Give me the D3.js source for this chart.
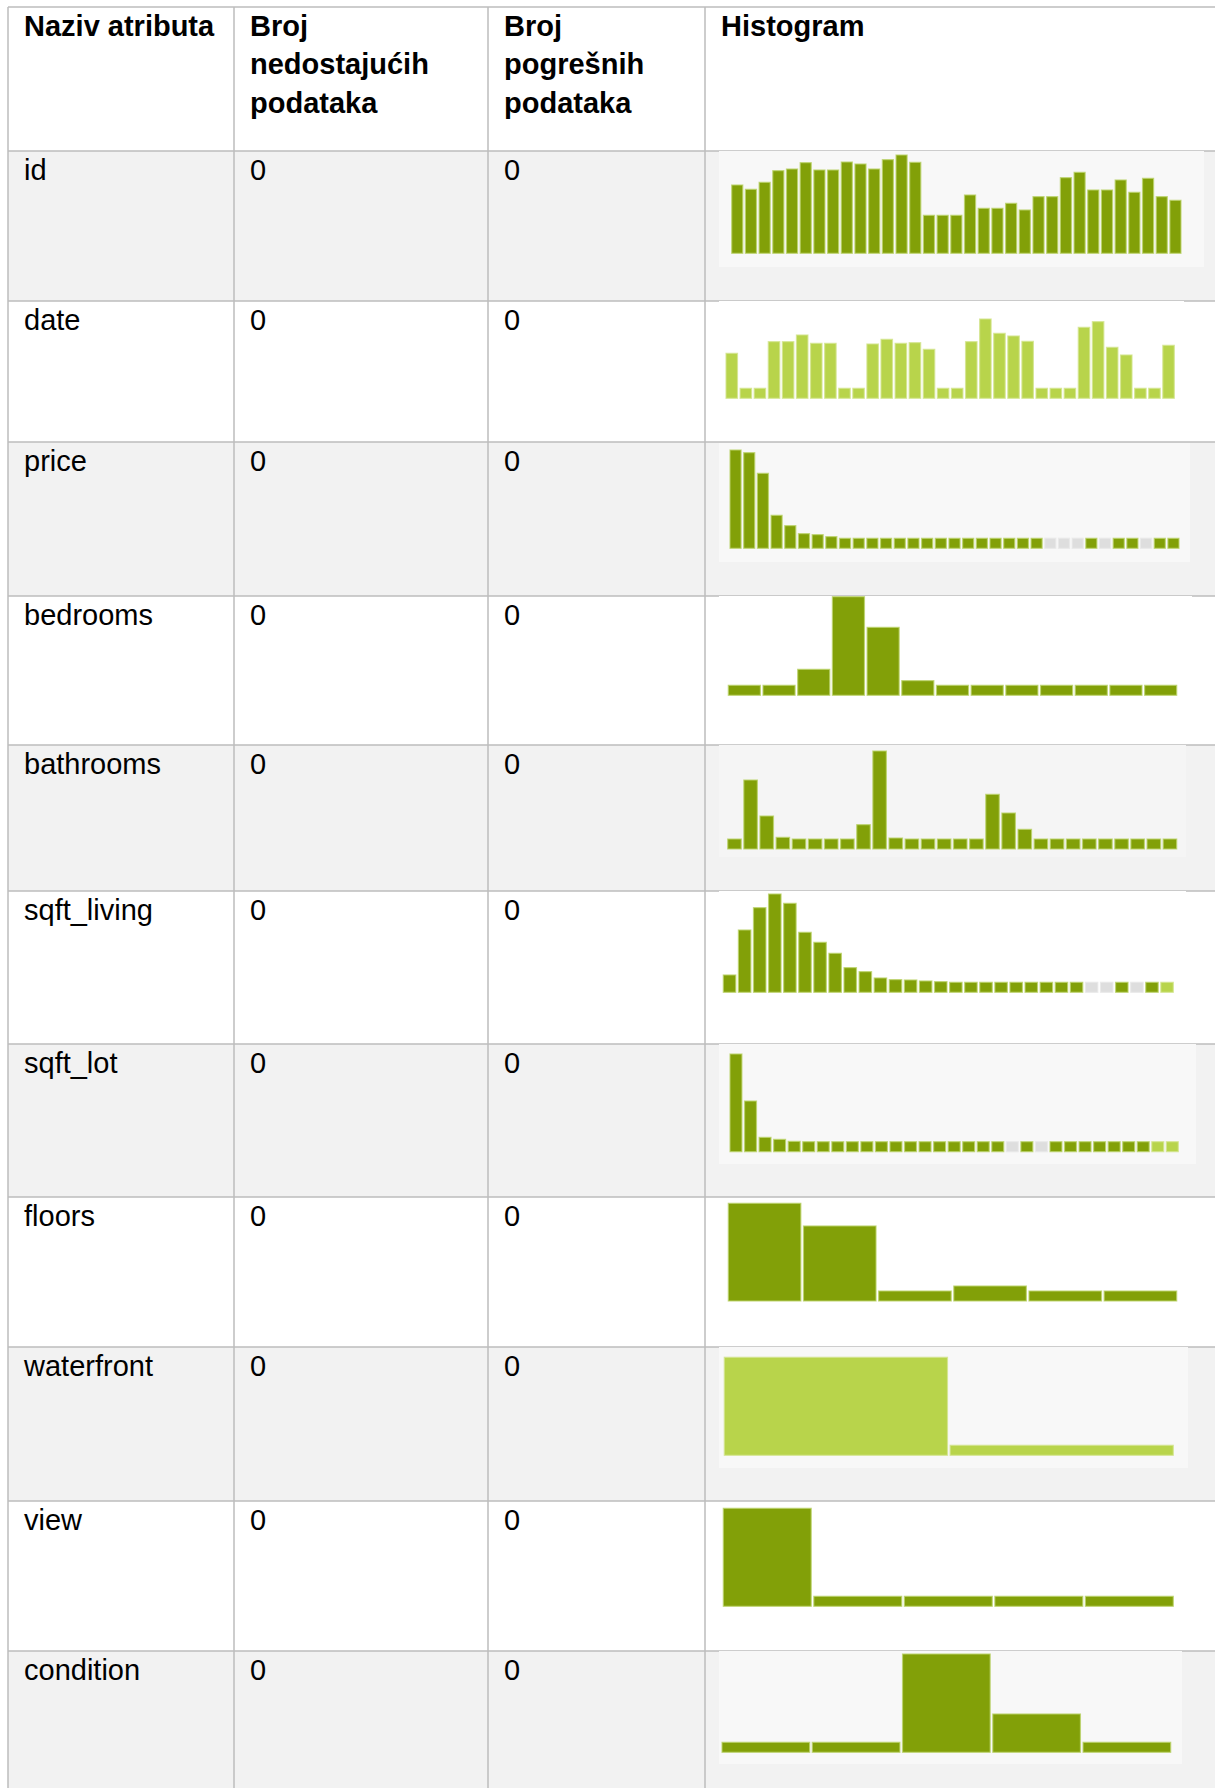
<!DOCTYPE html>
<html>
<head>
<meta charset="utf-8">
<script src="https://cdn.jsdelivr.net/npm/d3@7"></script>
<style>
    body { margin: 0; background: #fff; }
    text { font-family: "Liberation Sans", Arial, sans-serif; fill: #000; }
</style>
</head>
<body>
<div id="table"></div>
<script>
// Table content

var headerLines = [
    ["Naziv atributa"],
    ["Broj", "nedostajućih", "podataka"],
    ["Broj", "pogrešnih", "podataka"],
    ["Histogram"]
];

var attributes = ["id", "date", "price", "bedrooms", "bathrooms", "sqft_living",
    "sqft_lot", "floors", "waterfront", "view", "condition"];

var missingCounts = [0, 0, 0, 0, 0, 0, 0, 0, 0, 0, 0];
var wrongCounts = [0, 0, 0, 0, 0, 0, 0, 0, 0, 0, 0];

// Histogram bin heights (relative frequencies; 0 = empty bin)

var idBins = [205, 192, 213, 248, 253, 272, 250, 250, 274, 268, 253, 281, 295, 273, 114, 114, 114,
    175, 135, 135, 150, 130, 170, 170, 227, 243, 190, 190, 220, 183, 225, 170, 159];
var dateBins = [135, 3, 3, 170, 170, 190, 165, 165, 3, 3, 163, 177, 165, 167, 147, 3, 3,
    170, 238, 195, 187, 171, 3, 3, 3, 213, 230, 153, 130, 3, 3, 159];
var priceBins = [295, 287, 225, 99, 68, 44, 41, 35, 3, 3, 3, 3, 3, 3, 3, 3, 3, 3, 3, 3, 3, 3, 3,
    0, 0, 0, 3, 0, 3, 3, 0, 3, 3];
var bedroomsBins = [4, 6, 78, 296, 204, 44, 4, 3, 2, 2, 2, 2, 2];
var bathroomsBins = [4, 207, 99, 35, 2, 2, 2, 2, 73, 294, 33, 2, 2, 2, 2, 2, 164, 108, 59,
    2, 2, 2, 2, 2, 2, 2, 2, 2];
var sqftLivingBins = [52, 187, 254, 295, 267, 180, 150, 117, 74, 62, 43, 38, 37, 34, 32,
    3, 3, 3, 3, 3, 3, 3, 3, 3, 0, 0, 2, 0, 2, 2];
var sqftLotBins = [293, 152, 43, 37, 31, 3, 3, 3, 3, 3, 3, 3, 3, 3, 3, 3, 3, 3, 3,
    0, 2, 0, 2, 2, 2, 2, 2, 2, 2, 2, 2];
var floorsBins = [293, 225, 4, 45, 4, 2];
var waterfrontBins = [294, 2];
var viewBins = [294, 4, 4, 4, 4];
var conditionBins = [2, 2, 295, 115, 4];

var histograms = [idBins, dateBins, priceBins, bedroomsBins, bathroomsBins, sqftLivingBins,
    sqftLotBins, floorsBins, waterfrontBins, viewBins, conditionBins];

// bins drawn in the light green (flagged) colour
var lightBins = [[], "all", [], [], [], [29], [29, 30], [], "all", [], []];

// Layout

var width = 1215;
var height = 1788;
var colX = [8, 234, 488, 705];
var rowTops = [7, 151, 301, 442, 596, 745, 891, 1044, 1197, 1347, 1501, 1651, 1800];
var fontSize = 29;
var lineHeight = 38.8;
var baselineOffset = 28.5;
var minBar = 10;
var barGap = 2.6;

var darkGreen = "#82a008";
var lightGreen = "#b8d44b";
var emptyGray = "#dedede";

// plot area of each histogram: left edge, right edge, base (from row top), tallest bar
var plotBoxes = [
    {x0: 731.7, x1: 1181, base: 102.3, h: 98.3},
    {x0: 726, x1: 1174.3, base: 97.3, h: 79.3},
    {x0: 730, x1: 1179, base: 106.3, h: 98.3},
    {x0: 728.3, x1: 1176.7, base: 99.3, h: 98.6},
    {x0: 727.7, x1: 1176.7, base: 104, h: 98},
    {x0: 723.3, x1: 1173.3, base: 101.3, h: 98.3},
    {x0: 730, x1: 1178.3, base: 107.7, h: 97.7},
    {x0: 728.3, x1: 1176.7, base: 104, h: 97.7},
    {x0: 724.3, x1: 1173.3, base: 108.3, h: 98},
    {x0: 723.3, x1: 1173.3, base: 105.3, h: 98},
    {x0: 722, x1: 1170.7, base: 101.3, h: 98.3}
];

// background panel of each histogram image
var panels = [
    {x0: 719, x1: 1204, y0: 0, y1: 116, fill: "#f8f8f8"},
    {x0: 719, x1: 1184, y0: 0, y1: 120, fill: "#ffffff"},
    {x0: 719, x1: 1190, y0: 1, y1: 120, fill: "#f8f8f8"},
    {x0: 719, x1: 1192, y0: 0, y1: 120, fill: "#ffffff"},
    {x0: 719, x1: 1186, y0: 0, y1: 112, fill: "#f5f5f5"},
    {x0: 719, x1: 1186, y0: 0, y1: 120, fill: "#ffffff"},
    {x0: 719, x1: 1196, y0: 0, y1: 120, fill: "#f8f8f8"},
    {x0: 719, x1: 1190, y0: 2, y1: 120, fill: "#ffffff"},
    {x0: 719, x1: 1188, y0: 0, y1: 121, fill: "#f8f8f8"},
    {x0: 719, x1: 1186, y0: 2, y1: 120, fill: "#ffffff"},
    {x0: 719, x1: 1182, y0: 0, y1: 113, fill: "#f8f8f8"}
];

var svg = d3.select("#table")
    .append("svg")
    .attr("width", width)
    .attr("height", height);

// Row backgrounds (zebra striping)

svg.selectAll("rect.rowbg")
    .data(attributes)
    .enter()
    .append("rect")
    .attr("class", "rowbg")
    .attr("x", colX[0])
    .attr("y", (d, i) => rowTops[i + 1])
    .attr("width", width - colX[0])
    .attr("height", (d, i) => rowTops[i + 2] - rowTops[i + 1])
    .attr("fill", (d, i) => i % 2 === 0 ? "#f2f2f2" : "#ffffff");

// Grid lines

var grid = svg.append("g")
    .attr("stroke", "#bdbdbd")
    .attr("stroke-width", 1.5);

grid.selectAll("line.h")
    .data(rowTops.slice(0, -1))
    .enter()
    .append("line")
    .attr("x1", colX[0])
    .attr("x2", width)
    .attr("y1", d => d)
    .attr("y2", d => d);

grid.selectAll("line.v")
    .data(colX)
    .enter()
    .append("line")
    .attr("x1", d => d)
    .attr("x2", d => d)
    .attr("y1", rowTops[0])
    .attr("y2", height);

// Header

headerLines.forEach(function (lines, c) {
    svg.append("text")
        .attr("x", colX[c] + 16)
        .attr("y", rowTops[0] + baselineOffset)
        .attr("font-size", fontSize)
        .attr("font-weight", "bold")
        .selectAll("tspan")
        .data(lines)
        .enter()
        .append("tspan")
        .attr("x", colX[c] + 16)
        .attr("dy", (d, i) => i === 0 ? 0 : lineHeight)
        .text(d => d);
});

// Body rows

attributes.forEach(function (name, i) {
    var top = rowTops[i + 1];
    var cells = [name, missingCounts[i], wrongCounts[i]];

    svg.selectAll("text.cell" + i)
        .data(cells)
        .enter()
        .append("text")
        .attr("x", (d, c) => colX[c] + 16)
        .attr("y", top + baselineOffset)
        .attr("font-size", fontSize)
        .text(d => d);

    // histogram image panel
    var p = panels[i];
    svg.append("rect")
        .attr("x", p.x0)
        .attr("y", top + p.y0)
        .attr("width", p.x1 - p.x0)
        .attr("height", p.y1 - p.y0)
        .attr("fill", p.fill);

    var bins = histograms[i];
    var box = plotBoxes[i];
    var base = top + box.base;

    var x = d3.scaleBand()
        .domain(d3.range(bins.length))
        .range([box.x0 - barGap / 2, box.x1 + barGap / 2]);

    var y = d3.scaleLinear()
        .domain([0, d3.max(bins)])
        .range([base, base - box.h]);

    var isLight = function (k) {
        return lightBins[i] === "all" || lightBins[i].indexOf(k) >= 0;
    };

    svg.append("g")
        .selectAll("rect")
        .data(bins)
        .enter()
        .append("rect")
        .attr("x", (d, k) => x(k) + barGap / 2)
        .attr("width", x.bandwidth() - barGap)
        .attr("y", d => Math.min(y(d), base - minBar))
        .attr("height", d => Math.max(base - y(d), minBar))
        .attr("fill", (d, k) => d === 0 ? emptyGray : (isLight(k) ? lightGreen : darkGreen))
        .attr("stroke", (d, k) => d === 0 ? "#e8e8e8" : (isLight(k) ? "#d3e58f" : "#bcd36c"))
        .attr("stroke-width", 1.2)
        .attr("stroke-opacity", 0.8);
});

</script>
</body>
</html>
